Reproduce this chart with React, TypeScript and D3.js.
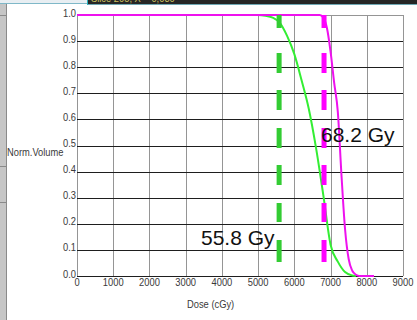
import React from "react";
import * as d3 from "d3";

const xTicks = [0, 1000, 2000, 3000, 4000, 5000, 6000, 7000, 8000, 9000];
const yTicks = [0, 0.1, 0.2, 0.3, 0.4, 0.5, 0.6, 0.7, 0.8, 0.9, 1.0];

const greenDose = [0, 5000, 5200, 5400, 5600, 5800, 6000, 6200, 6400, 6600, 6800, 7000, 7200, 7400, 7600, 7700];
const greenVol = [1, 1, 0.997, 0.99, 0.97, 0.92, 0.85, 0.75, 0.64, 0.49, 0.31, 0.12, 0.055, 0.015, 0.002, 0];

const magentaDose = [0, 6700, 6800, 6900, 7000, 7100, 7200, 7300, 7400, 7500, 7600, 7700, 7800, 8200];
const magentaVol = [1, 1, 0.99, 0.95, 0.86, 0.74, 0.63, 0.39, 0.18, 0.065, 0.02, 0.005, 0, 0];

const markers = [
  { dose: 5580, label: "55.8 Gy", color: "#33cc33" },
  { dose: 6820, label: "68.2 Gy", color: "#ff00ff" },
];

const W = 417;
const H = 320;

const tickFont = "'Liberation Sans', Arial, sans-serif";

function SmallText(props: { x: number; y: number; anchor?: string; fill?: string; children: React.ReactNode }) {
  return (
    <text
      transform={`translate(${props.x},${props.y}) scale(0.85,1)`}
      textAnchor={props.anchor || "start"}
      fontFamily={tickFont}
      fontSize={11}
      fill={props.fill || "#3a3a3a"}
    >
      {props.children}
    </text>
  );
}

export default function App() {
  const x = d3.scaleLinear().domain([0, 9000]).range([77, 403]);
  const y = d3.scaleLinear().domain([0, 1]).range([276, 15]);
  const line = d3
    .line<[number, number]>()
    .x((d) => x(d[0]))
    .y((d) => y(d[1]))
    .curve(d3.curveMonotoneX);
  const green = line(greenDose.map((d, i) => [d, greenVol[i]]) as [number, number][]) || "";
  const magenta = line(magentaDose.map((d, i) => [d, magentaVol[i]]) as [number, number][]) || "";
  const dash = "13 25 20 17 20 18 20 17 20 18 19 18 22 14";
  return (
    <svg
      width={W}
      height={H}
      style={{ position: "fixed", left: 0, top: 0, background: "#fff" }}
      xmlns="http://www.w3.org/2000/svg"
    >
      <rect x={0} y={0} width={W} height={H} fill="#fff" />
      {/* window frame bits */}
      <rect x={0} y={0} width={7} height={H} fill="#c6c6c6" />
      <line x1={6.5} y1={0} x2={6.5} y2={H} stroke="#8a8a8a" />
      <line x1={0} y1={15.5} x2={7} y2={15.5} stroke="#8a8a8a" />
      <line x1={0} y1={166.5} x2={7} y2={166.5} stroke="#8a8a8a" />
      <line x1={0} y1={202.5} x2={7} y2={202.5} stroke="#8a8a8a" />
      <rect x={0} y={0} width={87} height={3} fill="#e8eef2" />
      <line x1={0} y1={3.5} x2={87} y2={3.5} stroke="#7fb8c8" />
      <rect x={87} y={0} width={W - 87} height={4} fill="#262626" />
      <line x1={87} y1={4.5} x2={W} y2={4.5} stroke="#6fa8b4" />
      <line x1={87.5} y1={0} x2={87.5} y2={5} stroke="#2bb5c0" />
      <SmallText x={91} y={2} fill="#c8c060">
        Slice 205, X = 0,030
      </SmallText>

      {/* vertical grid */}
      {xTicks.map((t) => (
        <line
          key={"vx" + t}
          x1={Math.round(x(t)) + 0.5}
          x2={Math.round(x(t)) + 0.5}
          y1={y(1)}
          y2={y(0)}
          stroke="#959595"
          strokeWidth={1}
        />
      ))}
      {/* horizontal grid */}
      {yTicks.map((t) => (
        <line
          key={"hy" + t}
          x1={x(0)}
          x2={x(9000)}
          y1={Math.round(y(t)) + 0.5}
          y2={Math.round(y(t)) + 0.5}
          stroke={t === 1 ? "#959595" : "#1e1e1e"}
          strokeWidth={1}
        />
      ))}

      {/* tick labels */}
      {yTicks.map((t) => (
        <SmallText key={"yl" + t} x={x(0) - 1} y={y(t) + 1.5} anchor="end">
          {t.toFixed(1)}
        </SmallText>
      ))}
      {xTicks.map((t) => (
        <SmallText key={"xl" + t} x={x(t)} y={286} anchor="middle">
          {String(t)}
        </SmallText>
      ))}
      <SmallText x={7} y={156}>
        Norm.Volume
      </SmallText>
      <SmallText x={187} y={308}>
        Dose (cGy)
      </SmallText>

      {/* curves */}
      <path d={green} fill="none" stroke="#33ee33" strokeWidth={2} />
      <path d={magenta} fill="none" stroke="#ee11ee" strokeWidth={2} />

      {/* dashed markers */}
      {markers.map((m) => (
        <line
          key={m.label}
          x1={x(m.dose)}
          x2={x(m.dose)}
          y1={y(1)}
          y2={y(0)}
          stroke={m.color}
          strokeWidth={5}
          strokeDasharray={dash}
        />
      ))}

      <text x={201} y={245} fontFamily="'Liberation Sans', Arial, sans-serif" fontSize={21} fill="#111">
        {markers[0].label}
      </text>
      <text x={321} y={142} fontFamily="'Liberation Sans', Arial, sans-serif" fontSize={21} fill="#111">
        {markers[1].label}
      </text>
    </svg>
  );
}
